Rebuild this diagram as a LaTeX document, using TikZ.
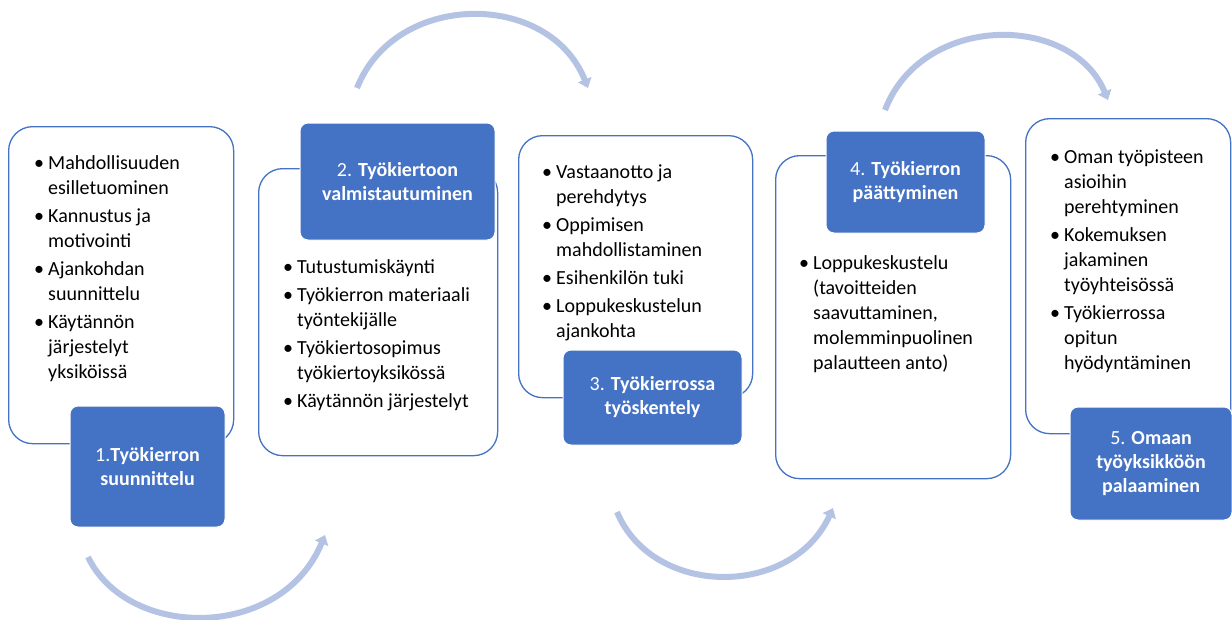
\documentclass[tikz,border=0pt]{standalone}
\usepackage{fontspec}
\setmainfont{Carlito}
\usetikzlibrary{arrows.meta}
\definecolor{stageblue}{HTML}{4472C4}
\definecolor{flowarrow}{HTML}{B4C2E3}
\newcommand\bul{\makebox[14pt][l]{\textbullet}}
\newcommand\blist[1]{\begin{tabular}[t]{@{}l@{}l@{}}#1\end{tabular}}
\tikzset{
  panel/.style={draw=stageblue, line width=1.3pt, fill=white, rounded corners=24pt, anchor=north west, inner sep=0pt},
  stage/.style={fill=stageblue, draw=white, line width=1pt, rounded corners=8pt, inner sep=0pt,
    text=white, align=center, font=\fontsize{20}{24}\selectfont\bfseries},
  bullets/.style={anchor=base west, inner sep=0pt, font=\fontsize{20}{25}\selectfont},
  flow/.style={draw=flowarrow, line width=6pt, -{Triangle[width=14pt,length=9pt]}}
}
\begin{document}
\begin{tikzpicture}[x=1pt,y=-1pt]
\useasboundingbox (0,0) rectangle (1232,619);

% stage 1
\node[panel, minimum width=225pt, minimum height=317pt] (p1) at (8,126) {};
\node[bullets] (b1) at (34,169) {\blist{
  \bul & Mahdollisuuden\\ & esilletuominen\\[3pt]
  \bul & Kannustus ja\\ & motivointi\\[3pt]
  \bul & Ajankohdan\\ & suunnittelu\\[3pt]
  \bul & Käytännön\\ & järjestelyt\\ & yksiköissä}};
\node[stage, minimum width=155pt, minimum height=121pt] (s1) at (147.5,466.5)
  {{\mdseries 1.}Työkierron\\suunnittelu};

% stage 2
\node[panel, minimum width=239pt, minimum height=287pt] (p2) at (258,168) {};
\node[bullets] (b2) at (283,273) {\blist{
  \bul & Tutustumiskäynti\\[3pt]
  \bul & Työkierron materiaali\\ & työntekijälle\\[3pt]
  \bul & Työkiertosopimus\\ & työkiertoyksikössä\\[3pt]
  \bul & Käytännön järjestelyt}};
\node[stage, minimum width=195pt, minimum height=117pt] (s2) at (397.5,181.5)
  {{\mdseries 2.} Työkiertoon\\valmistautuminen};

% stage 3
\node[panel, minimum width=234pt, minimum height=262pt] (p3) at (518,135) {};
\node[bullets] (b3) at (542,178) {\blist{
  \bul & Vastaanotto ja\\ & perehdytys\\[3pt]
  \bul & Oppimisen\\ & mahdollistaminen\\[3pt]
  \bul & Esihenkilön tuki\\[3pt]
  \bul & Loppukeskustelun\\ & ajankohta}};
\node[stage, minimum width=179pt, minimum height=95pt] (s3) at (652.5,397.5)
  {{\mdseries 3.} Työkierrossa\\työskentely};

% stage 4
\node[panel, minimum width=235pt, minimum height=323pt] (p4) at (775,155) {};
\node[bullets] (b4) at (799,269) {\blist{
  \bul & Loppukeskustelu\\ & (tavoitteiden\\ & saavuttaminen,\\ & molemminpuolinen\\ & palautteen anto)}};
\node[stage, minimum width=159pt, minimum height=102pt] (s4) at (905.5,182)
  {{\mdseries 4.} Työkierron\\päättyminen};

% stage 5
\node[panel, minimum width=205pt, minimum height=315pt] (p5) at (1025,118) {};
\node[bullets] (b5) at (1050,163) {\blist{
  \bul & Oman työpisteen\\ & asioihin\\ & perehtyminen\\[3pt]
  \bul & Kokemuksen\\ & jakaminen\\ & työyhteisössä\\[3pt]
  \bul & Työkierrossa\\ & opitun\\ & hyödyntäminen}};
\node[stage, minimum width=162pt, minimum height=113pt] (s5) at (1151,463.5)
  {{\mdseries 5.} Omaan\\työyksikköön\\palaaminen};

% curved flow arrows between the stages
\coordinate (a1s) at (88,557);   \coordinate (a1e) at (325,535);
\coordinate (a2s) at (357,88);   \coordinate (a2e) at (588,88);
\coordinate (a3s) at (617,512);  \coordinate (a3e) at (833,508);
\coordinate (a4s) at (885,110);  \coordinate (a4e) at (1108,100);
\draw[flow] (a1s) .. controls (128,640) and (281,641) .. (a1e);
\draw[flow] (a2s) .. controls (395,-9) and (549,-10) .. (a2e);
\draw[flow] (a3s) .. controls (653,598) and (792,598) .. (a3e);
\draw[flow] (a4s) .. controls (922,13) and (1072,13) .. (a4e);
\end{tikzpicture}
\end{document}
